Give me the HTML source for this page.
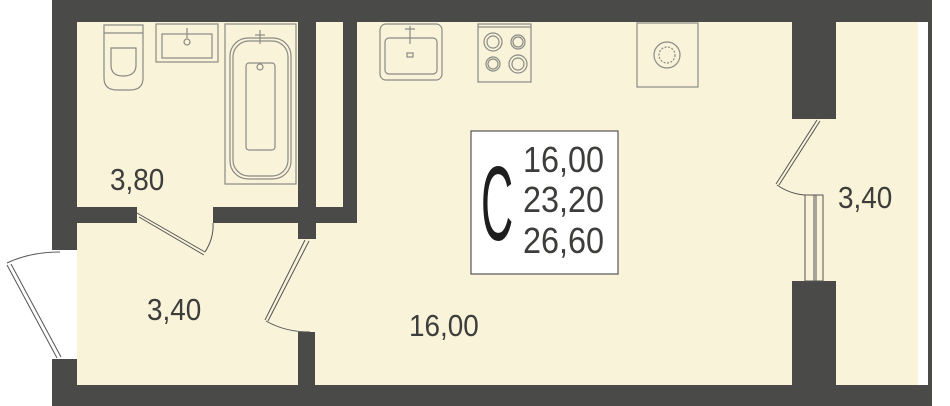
<!DOCTYPE html>
<html><head><meta charset="utf-8"><style>
html,body{margin:0;padding:0;background:#fff;}
svg{display:block}
text{font-family:"Liberation Sans",sans-serif;fill:#3d3d3b;}
</style></head><body>
<svg width="950" height="406" viewBox="0 0 950 406" xmlns="http://www.w3.org/2000/svg">
<rect x="52" y="0" width="880" height="406" fill="#f9f3d9"/>
<rect x="52" y="250" width="25" height="109" fill="#fff"/>
<rect x="918" y="22" width="10" height="363" fill="#fff"/>
<g fill="#4a4a48">
<rect x="52" y="0" width="880" height="22"/>
<rect x="52" y="385" width="880" height="21"/>
<rect x="52" y="0" width="25" height="250"/>
<rect x="52" y="359" width="25" height="47"/>
<rect x="928" y="0" width="4" height="406"/>
<rect x="77" y="207" width="60" height="16"/>
<rect x="213" y="207" width="144" height="16"/>
<rect x="298" y="22" width="18" height="217"/>
<rect x="343" y="22" width="14" height="201"/>
<rect x="298" y="332" width="17" height="53"/>
<rect x="792" y="22" width="44" height="97"/>
<rect x="792" y="281" width="44" height="104"/>
</g>
<rect x="316" y="22" width="27" height="185" fill="#f9f3d9"/>
<g fill="none" stroke="#555" stroke-width="1">
<rect x="805" y="195" width="18" height="86"/>
<line x1="814" y1="195" x2="814" y2="281"/>
<line x1="816" y1="195" x2="816" y2="281"/>
</g>
<g fill="none" stroke="#555" stroke-width="1">
<path d="M137 213 L205 252 M139 217 L204 255"/>
<path d="M205 252 Q214 238 213 223"/>
<path d="M305 240 L265 320 M309 241 L268 321"/>
<path d="M266 321 Q285 332 310 332"/>
<path d="M57 358 L7 265 M61 357 L11 264"/>
<path d="M7 263 Q30 252 60 252"/>
<path d="M817 120 L776 184 M820 121 L779 185"/>
<path d="M777 185 Q790 194 805 195"/>
</g>
<g fill="none" stroke="#8a8a86" stroke-width="1.2">
<path d="M104 25 H143 V78 Q143 90 130 90 H117 Q104 90 104 78 Z"/>
<line x1="104" y1="33" x2="143" y2="33"/>
<path d="M111 48 H136 V65 Q136 76 123 76 Q111 76 111 65 Z"/>
<rect x="156" y="24" width="62" height="38"/>
<rect x="162" y="34" width="50" height="24"/>
<circle cx="187" cy="42" r="3"/>
<line x1="187" y1="28" x2="187" y2="38"/>
<rect x="225" y="24" width="71" height="160"/>
<rect x="230" y="38" width="61" height="141" rx="18"/>
<rect x="233" y="41" width="55" height="135" rx="16"/>
<rect x="246" y="63" width="29" height="87" rx="3"/>
<circle cx="260" cy="67" r="3"/>
<line x1="260" y1="30" x2="260" y2="44"/><line x1="255" y1="35" x2="265" y2="35"/>
<rect x="380" y="24" width="62" height="56" rx="6"/>
<rect x="385" y="38" width="52" height="36" rx="4"/>
<rect x="407" y="53" width="6" height="4"/>
<line x1="410" y1="26" x2="410" y2="44"/><line x1="405" y1="29" x2="415" y2="29"/>
<rect x="478" y="24" width="53" height="58"/>
<line x1="478" y1="27" x2="531" y2="27"/>
<circle cx="493" cy="42" r="9"/><circle cx="493" cy="42" r="6"/>
<circle cx="518" cy="42" r="7"/><circle cx="518" cy="42" r="5"/>
<circle cx="493" cy="64" r="7"/><circle cx="493" cy="64" r="5"/>
<circle cx="518" cy="64" r="9"/><circle cx="518" cy="64" r="6"/>
<rect x="637" y="23" width="61" height="64"/>
<circle cx="667" cy="55" r="13"/>
<circle cx="667" cy="55" r="8" stroke-dasharray="2 1.5"/>
</g>
<rect x="471" y="131" width="147" height="143" fill="#fff" stroke="#555" stroke-width="1.2"/>
<text x="0" y="0" font-size="106" style="fill:#1e1e1e" transform="translate(481 240) scale(0.42 1)">C</text>
<text x="0" y="0" font-size="36" transform="translate(523 172) scale(0.9 1)">16,00</text>
<text x="0" y="0" font-size="36" transform="translate(523 212) scale(0.9 1)">23,20</text>
<text x="0" y="0" font-size="36" transform="translate(523 253) scale(0.9 1)">26,60</text>
<text x="0" y="0" font-size="31" transform="translate(110 190) scale(0.9 1)">3,80</text>
<text x="0" y="0" font-size="31" transform="translate(147 320) scale(0.9 1)">3,40</text>
<text x="0" y="0" font-size="31" transform="translate(409 336) scale(0.9 1)">16,00</text>
<text x="0" y="0" font-size="31" transform="translate(838 208) scale(0.9 1)">3,40</text>
</svg>
</body></html>
